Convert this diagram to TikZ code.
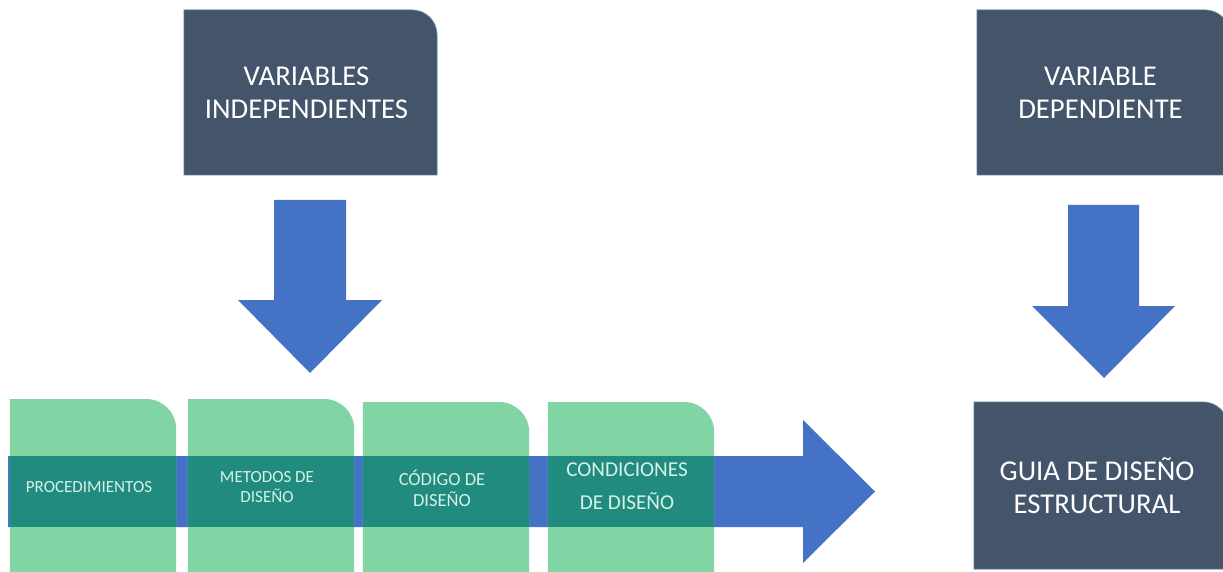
\documentclass[tikz,border=0pt]{standalone}
\usepackage{fontspec}
\setmainfont{Carlito}
\usetikzlibrary{backgrounds,calc}
\definecolor{darkbox}{HTML}{44546A}
\definecolor{boxline}{HTML}{8CA5C4}
\definecolor{arrowblue}{HTML}{4472C4}
\definecolor{greenbox}{HTML}{81D5A4}
\definecolor{tealband}{HTML}{218B80}
\definecolor{mint}{HTML}{D5F2E6}
\begin{document}
\begin{tikzpicture}[x=1pt,y=-1pt,
  varbox/.style={minimum width=253pt, minimum height=165pt, inner sep=0pt},
  vartext/.style={text=white, align=center, inner sep=0pt, font=\fontsize{28.7}{33}\selectfont},
  band/.style={minimum width=166pt, minimum height=71pt, inner sep=0pt},
  bandtext/.style={text=mint, align=center, inner sep=0pt},
  blockarrow/.style={fill=arrowblue},
  greenfill/.style={fill=greenbox},
  darkfill/.style={fill=darkbox, draw=boxline, line width=0.6pt}]
\useasboundingbox (0,0) rectangle (1223,572);
\clip (0,0) rectangle (1223,572);

% dark boxes
\node[varbox] (vi) at (310.5,92.5) {};
\node[varbox] (vd) at (1103.5,92.5) {};
\node[varbox, minimum width=254pt, minimum height=167pt] (gd) at (1101,485.5) {};
\foreach \n in {vi,vd,gd}{
  \path[darkfill] (\n.south west) -- (\n.north west) -- ([xshift=-25pt]\n.north east)
    arc[start angle=90, end angle=0, radius=25pt] -- (\n.south east) -- cycle;
}
\node[vartext] (tvi) at ([xshift=-4pt]vi.center) {VARIABLES\\INDEPENDIENTES};
\node[vartext] (tvd) at ([xshift=-3pt]vd.center) {VARIABLE\\DEPENDIENTE};
\node[vartext] (tgd) at ([xshift=-4pt]gd.center) {GUIA DE DISEÑO\\ESTRUCTURAL};

% down arrows
\path[blockarrow] (274,200) -- (346,200) -- (346,300) -- (382,300) -- (310,373) -- (238,300) -- (274,300) -- cycle;
\path[blockarrow] (1068,205) -- (1139,205) -- (1139,306) -- (1175,306) -- (1104,378) -- (1032,306) -- (1068,306) -- cycle;

% process arrow
\path[blockarrow] (8,456) -- (803,456) -- (803,420) -- (875,491.5) -- (803,563) -- (803,527) -- (8,527) -- cycle;

% bands and green boxes
\node[band] (p1) at (93,491.5) {};
\node[band] (p2) at (271,491.5) {};
\node[band] (p3) at (446,491.5) {};
\node[band] (p4) at (631,491.5) {};
\foreach \n/\t in {p1/399,p2/399,p3/402,p4/402}{
  \path[greenfill] (\n.west |- 0,580) -- (\n.west |- 0,\t) -- ([xshift=-30pt]\n.east |- 0,\t)
    arc[start angle=90, end angle=0, radius=30pt] -- (\n.east |- 0,580) -- cycle;
  \path[fill=tealband] (\n.south west) rectangle (\n.north east);
}
\node[bandtext, font=\fontsize{17}{21}\selectfont] (t1) at (89,487) {PROCEDIMIENTOS};
\node[bandtext, font=\fontsize{17}{20}\selectfont] (t2) at (267,487) {METODOS DE\\DISEÑO};
\node[bandtext, font=\fontsize{18.5}{21}\selectfont] (t3) at (442,488.5) {CÓDIGO DE\\DISEÑO};
\node[bandtext, font=\fontsize{21.2}{33}\selectfont] (t4) at (627,486.5) {CONDICIONES\\DE DISEÑO};
\end{tikzpicture}
\end{document}
